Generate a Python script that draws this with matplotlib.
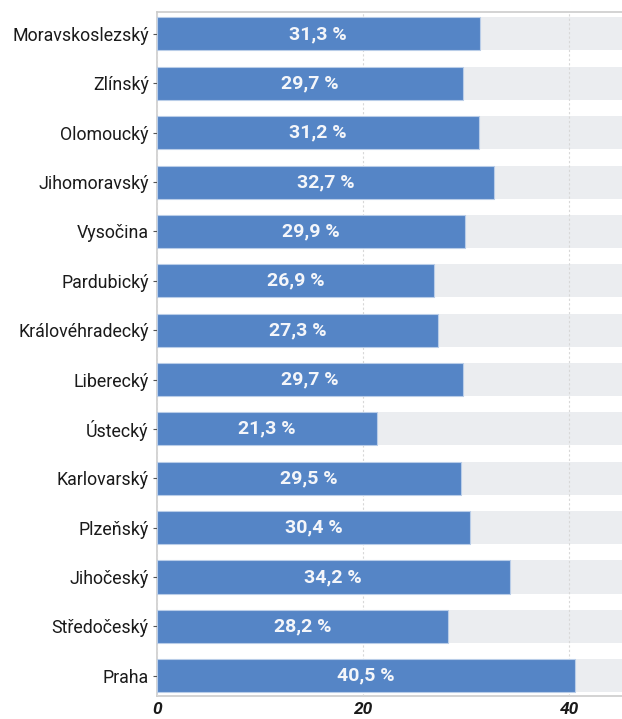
import matplotlib
matplotlib.use("Agg")
import matplotlib.pyplot as plt

plt.rcParams["font.family"] = ["Roboto", "DejaVu Sans"]

REGIONS = [
    "Moravskoslezský",
    "Zlínský",
    "Olomoucký",
    "Jihomoravský",
    "Vysočina",
    "Pardubický",
    "Královéhradecký",
    "Liberecký",
    "Ústecký",
    "Karlovarský",
    "Plzeňský",
    "Jihočeský",
    "Středočeský",
    "Praha",
]
VALUES = [31.3, 29.7, 31.2, 32.7, 29.9, 26.9, 27.3, 29.7, 21.3, 29.5, 30.4, 34.2, 28.2, 40.5]
X_MAX = 45.1
X_TICKS = [0, 20, 40]

BAR_COLOR = "#5585c6"
BACK_COLOR = "#ebedf0"

fig = plt.figure(figsize=(6.22, 7.19), dpi=100)
ax = fig.add_axes([0.2524, 0.032, 0.7476, 0.951])

pos = list(range(len(REGIONS)))
ax.barh(pos, [X_MAX] * len(REGIONS), height=0.67, color=BACK_COLOR, zorder=1)
ax.barh(pos, VALUES, height=0.67, color=BAR_COLOR, edgecolor="#b9cde8",
        linewidth=0.8, zorder=3)

for y, v in zip(pos, VALUES):
    label = f"{v:.1f} %".replace(".", ",")
    ax.text(v / 2, y, label, ha="center", va="center", color="#f4f6fa",
            fontsize=14, fontweight="bold", zorder=4)

ax.set_yticks(pos)
ax.set_yticklabels(REGIONS, fontsize=12.8, color="#1a1a1a")
ax.set_ylim(len(REGIONS) - 1 + 0.41, -0.44)
ax.set_xlim(0, X_MAX)
ax.set_xticks(X_TICKS)
ax.set_xticklabels([str(t) for t in X_TICKS], fontsize=12.5, fontweight="bold",
                   fontstyle="italic", color="#1a1a1a")
ax.tick_params(axis="y", length=3, width=0.8, color="#555555", pad=3)
ax.tick_params(axis="x", length=0, pad=4)

ax.grid(axis="x", linestyle=(0, (2, 2)), color="#d8d8d8", linewidth=0.8, zorder=2)
ax.set_axisbelow(False)
for name, sp in ax.spines.items():
    sp.set_color("#cccccc")
    sp.set_linewidth(1.2)
ax.spines["right"].set_visible(False)

fig.savefig("out.png", dpi=100)
